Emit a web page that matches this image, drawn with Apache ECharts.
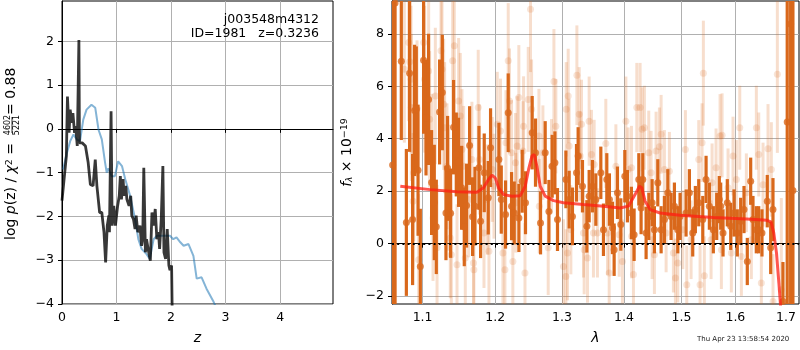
<!DOCTYPE html>
<html>
<head>
<meta charset="utf-8">
<script src="https://cdn.jsdelivr.net/npm/echarts@6/dist/echarts.min.js"></script>
<style>
html, body { margin: 0; padding: 0; background: #fff; }
#chart { width: 800px; height: 350px; }
</style>
</head>
<body>
<div id="chart"></div>
<script>
// ---- left panel: log p(z) ----
var zTicks = [0, 1, 2, 3, 4];
var logpTicks = [-4, -3, -2, -1, 0, 1, 2];

var priorZ = [0.02, 0.09, 0.15, 0.21, 0.27, 0.33, 0.39, 0.45, 0.54, 0.61, 0.67, 0.73, 0.79, 0.82, 0.85, 0.91, 0.97, 1.03, 1.10, 1.16,
              1.25, 1.34, 1.40, 1.46, 1.55, 1.61, 1.68, 1.74, 1.98, 2.04, 2.10, 2.17, 2.23, 2.32, 2.41, 2.47, 2.56, 2.65, 2.78, 2.85];
var priorLogP = [-0.93, -0.55, -0.28, -0.13, -0.24, -0.28, 0.21, 0.44, 0.55, 0.48, -0.02, -0.24, -0.77, -1.0, -0.9, -1.08, -1.08, -0.74, -0.85, -1.15,
                 -1.53, -2.06, -2.52, -2.74, -2.86, -2.97, -2.52, -2.44, -2.44, -2.52, -2.48, -2.59, -2.67, -2.63, -2.9, -3.42, -3.39, -3.65, -3.95, -4.15];

var pzZ = [0, 0.05, 0.08, 0.10, 0.13, 0.15, 0.18, 0.20, 0.23, 0.25, 0.28, 0.31, 0.32, 0.37, 0.43, 0.48, 0.52, 0.57, 0.61, 0.64,
           0.67, 0.69, 0.73, 0.77, 0.80, 0.83, 0.86, 0.87, 0.90, 0.92, 0.95, 0.98, 1.02, 1.05, 1.07, 1.09, 1.12, 1.14, 1.17, 1.19,
           1.23, 1.26, 1.28, 1.31, 1.34, 1.36, 1.39, 1.43, 1.46, 1.48, 1.50, 1.53, 1.55, 1.59, 1.62, 1.65, 1.68, 1.71, 1.74, 1.77,
           1.79, 1.82, 1.85, 1.87, 1.90, 1.93, 1.96, 1.98, 2.01, 2.02];
var pzLogP = [-1.64, -1.0, -0.62, 0.74, -0.09, 0.44, 0.14, 0.36, -0.09, 0.06, -0.39, 2.03, -0.32, -0.32, -0.39, -0.77, -1.27, -1.30, -0.70, -1.30,
              -1.30, -1.91, -1.91, -2.36, -3.05, -2.21, -1.98, -2.36, 0.40, -2.21, -1.76, -2.21, -1.76, -1.53, -1.08, -1.61, -1.15, -1.53, -1.30, -1.61,
              -1.76, -1.53, -1.98, -2.06, -2.29, -1.98, -2.36, -2.21, -2.67, -2.52, -0.89, -2.82, -2.52, -2.82, -3.01, -1.91, -2.21, -1.83, -2.52, -2.36,
              -2.74, -2.06, -0.85, -2.82, -2.97, -2.29, -3.12, -3.23, -3.12, -4.1];

// ---- right panel: spectrum ----
var waveTicks = [1.1, 1.2, 1.3, 1.4, 1.5, 1.6, 1.7];
var fluxTicks = [-2, 0, 2, 4, 6, 8];

var gWave = [1.0612, 1.0643, 1.0723, 1.0788, 1.0830, 1.0869, 1.0895, 1.0917, 1.0940, 1.0970, 1.1013, 1.1045, 1.1079, 1.1119, 1.1155, 1.1182,
             1.1226, 1.1263, 1.1312, 1.1334, 1.1375, 1.1416, 1.1453, 1.1484, 1.1526, 1.1563, 1.1595, 1.1637, 1.1679, 1.1712, 1.1768, 1.1791,
             1.1843, 1.1900, 1.1933, 1.2053, 1.2087, 1.2149, 1.2188, 1.2237, 1.2276, 1.2345, 1.2394, 1.2443, 1.2543, 1.2593, 1.2669, 1.2740,
             1.2797, 1.2847, 1.2889, 1.2929, 1.3060, 1.3111, 1.3163, 1.3227, 1.3253, 1.3322, 1.3392, 1.3429, 1.3482, 1.3537, 1.3618, 1.3661,
             1.3716, 1.3759, 1.3809, 1.3837, 1.3892, 1.3948, 1.4015, 1.4059, 1.4126, 1.4172, 1.4252, 1.4291, 1.4320, 1.4377, 1.4424, 1.4481,
             1.4521, 1.4580, 1.4638, 1.4696, 1.4756, 1.4814, 1.4873, 1.4933, 1.4974, 1.5082, 1.5142, 1.5203, 1.5251, 1.5313, 1.5387, 1.5448,
             1.5509, 1.5583, 1.5646, 1.5695, 1.5721, 1.5765, 1.5846, 1.5911, 1.5974, 1.6037, 1.6102, 1.6166, 1.6230, 1.6296, 1.6341, 1.6406,
             1.6453, 1.6518, 1.6623, 1.6691, 1.6737, 1.6938, 1.7025, 1.7095, 1.7142];
var gFlux = [3.0, 9.17, 6.95, 0.81, 6.50, 0.92, 5.08, 5.12, 2.80, -0.87, 6.99, 4.80, 5.50, 2.33, 1.57, 0.64,
             5.02, 5.76, 1.17, 2.87, 1.16, 4.44, 3.40, 3.10, 2.13, 0.64, 1.45, 3.74, 1.03, 1.43, 2.89, 0.85,
             2.70, 1.75, 3.66, 3.21, 1.68, 1.11, 4.99, 1.43, 1.17, 0.98, 2.38, 1.56, 4.23, 3.47, 0.79, 3.47,
             1.23, 2.95, 3.08, 0.92, 2.45, 1.68, 1.04, 2.70, 3.34, 2.19, 0.66, 1.81, 2.19, 1.68, 2.70, 0.53,
             2.45, 1.68, 0.60, -0.23, 1.94, 0.73, 2.57, 1.81, 1.17, 0.34, 2.45, 1.36, 2.45, 0.41, 1.04, 1.56,
             0.53, 2.32, 0.53, 0.92, 1.94, 1.04, 1.43, 0.53, 1.04, 1.17, 1.94, 0.41, 1.30, 1.56, 0.92, 2.45,
             1.43, 0.53, 1.04, 1.68, 1.43, 0.41, 1.56, 0.66, 1.17, 0.41, 0.85, 1.30, -0.68, 2.38, 0.92, 0.53,
             0.53, 0.41, 1.62, -0.16, 1.30, -2.2, 4.64, 8.37, 2.03];
var gErr = [20, 15, 3.0, 2.8, 3.0, 2.5, 2.5, 2.4, 2.5, 2.2, 2.8, 2.2, 2.5, 2.0, 2.2, 1.8,
            2.0, 2.2, 1.8, 2.0, 1.7, 1.8, 1.6, 1.7, 1.6, 1.5, 1.6, 1.5, 1.5, 1.5, 1.6, 1.4,
            1.5, 1.4, 1.5, 1.4, 1.3, 1.3, 1.5, 1.3, 1.2, 1.3, 1.2, 1.2, 1.4, 1.3, 1.2, 1.2,
            1.2, 1.2, 1.2, 1.2, 1.1, 1.1, 1.1, 1.1, 1.1, 1.0, 1.0, 1.0, 1.0, 1.0, 1.0, 1.0,
            1.0, 1.0, 1.0, 1.0, 1.0, 1.0, 1.0, 1.0, 1.0, 1.0, 1.0, 1.0, 1.0, 1.0, 0.9, 0.9,
            0.9, 0.9, 0.9, 0.9, 0.9, 0.9, 0.9, 0.9, 0.9, 0.9, 0.9, 0.9, 0.9, 0.9, 0.9, 0.9,
            0.9, 0.9, 0.9, 0.9, 0.9, 0.9, 0.9, 0.9, 0.9, 0.9, 0.9, 0.9, 0.9, 0.9, 0.9, 0.9,
            0.9, 0.9, 1.0, 1.0, 1.2, 1.5, 15, 15, 15];

var pWave = [1.0762, 1.0818, 1.0831, 1.0849, 1.0852, 1.0875, 1.0883, 1.0927, 1.0948, 1.1014, 1.1027, 1.1080, 1.1093, 1.1125, 1.1138, 1.1169,
             1.1192, 1.1245, 1.1259, 1.1281, 1.1294, 1.1326, 1.1348, 1.1371, 1.1385, 1.1403, 1.1426, 1.1463, 1.1485, 1.1508, 1.1531, 1.1554,
             1.1577, 1.1623, 1.1669, 1.1692, 1.1697, 1.1758, 1.1775, 1.1839, 1.1886, 1.1910, 1.1958, 1.1982, 1.2029, 1.2076, 1.2111, 1.2140,
             1.2155, 1.2188, 1.2207, 1.2236, 1.2256, 1.2294, 1.2300, 1.2319, 1.2344, 1.2405, 1.2414, 1.2435, 1.2484, 1.2518, 1.2534, 1.2645,
             1.2650, 1.2705, 1.2786, 1.2837, 1.2874, 1.2904, 1.3022, 1.3060, 1.3065, 1.3085, 1.3096, 1.3111, 1.3138, 1.3233, 1.3270, 1.3285,
             1.3306, 1.3338, 1.3349, 1.3402, 1.3429, 1.3466, 1.3498, 1.3510, 1.3563, 1.3700, 1.3727, 1.3755, 1.3866, 1.3921, 1.3975, 1.4033,
             1.4071, 1.4127, 1.4130, 1.4161, 1.4218, 1.4274, 1.4308, 1.4348, 1.4423, 1.4463, 1.4481, 1.4521, 1.4550, 1.4608, 1.4638, 1.4696,
             1.4726, 1.4784, 1.4855, 1.4891, 1.4933, 1.5023, 1.5070, 1.5095, 1.5173, 1.5313, 1.5337, 1.5374, 1.5398, 1.5416, 1.5541, 1.5559,
             1.5634, 1.5709, 1.5734, 1.5747, 1.5860, 1.5923, 1.5955, 1.6019, 1.6084, 1.6115, 1.6212, 1.6309, 1.6407, 1.6454, 1.6505, 1.6539,
             1.6638, 1.6704, 1.6738, 1.6825, 1.6905];
var pFlux = [6.65, 7.67, 6.93, 6.27, 5.19, 1.62, 2.70, 5.15, -0.61, 7.67, 6.27, 6.58, 4.74, 3.21, 0.98, 5.63,
             -0.16, 7.35, 6.65, 5.31, 4.42, 2.95, 2.13, 0.22, -0.42, 6.97, 7.54, -0.80, 5.44, 4.87, 3.59, 2.95,
             -0.55, 1.68, 3.21, -0.74, -0.99, 5.19, 3.21, 0.41, 1.68, -0.29, 2.83, 2.19, 4.55, 4.29, -0.36, -0.99,
             3.85, 6.97, 5.44, 3.47, -0.68, 3.08, 1.56, 3.72, 5.57, 3.53, 4.48, -1.12, 5.50, 8.94, 5.12, 4.10,
             1.43, 3.47, -0.16, 2.95, 6.18, 4.48, -0.87, -1.25, 5.12, -0.36, 5.63, 3.72, 0.53, 6.42, 4.93, 3.34,
             4.55, 0.41, -0.23, -0.55, 4.67, 3.40, 0.41, 3.02, 0.41, 3.82, 0.41, -1.12, 2.95, 0.34, -0.68, 4.67,
             2.83, 2.89, 0.28, -1.18, 5.19, 5.19, 4.36, 4.42, 3.47, 2.70, 0.15, -0.42, 3.53, 3.69, 4.17, 2.83,
             0.41, 2.76, -0.36, -1.31, -0.74, 0.53, 3.59, -1.57, 0.15, 3.21, -1.57, 3.85, 6.50, -1.22, 0.15, 2.32,
             2.89, 4.10, -0.23, 4.13, 2.13, -0.36, 3.34, 2.45, 4.42, -0.49, 1.94, 0.15, 4.42, 3.40, -1.50, 2.25,
             3.62, 2.83, -2.20, 6.46, -1.76];
var pErr = [2.8, 3.0, 3.0, 2.8, 2.8, 2.6, 2.6, 2.6, 2.5, 2.8, 2.8, 2.7, 2.6, 2.5, 2.4, 2.6,
            2.4, 2.6, 2.6, 2.5, 2.5, 2.4, 2.4, 2.3, 2.3, 2.5, 2.6, 2.3, 2.4, 2.4, 2.3, 2.3,
            2.2, 2.2, 2.2, 2.2, 2.2, 2.2, 2.1, 2.1, 2.1, 2.0, 2.0, 2.0, 2.0, 2.0, 2.0, 2.0,
            2.0, 2.2, 2.0, 2.0, 2.0, 1.9, 1.9, 1.9, 2.0, 1.9, 1.9, 1.9, 2.0, 2.4, 1.9, 1.8,
            1.8, 1.8, 1.8, 1.8, 2.0, 1.8, 1.8, 1.8, 1.8, 1.8, 1.8, 1.8, 1.7, 1.9, 1.8, 1.7,
            1.7, 1.7, 1.7, 1.7, 1.7, 1.7, 1.7, 1.7, 1.7, 1.7, 1.6, 1.6, 1.6, 1.6, 1.6, 1.7,
            1.6, 1.6, 1.6, 1.6, 1.7, 1.7, 1.6, 1.6, 1.6, 1.6, 1.5, 1.5, 1.5, 1.5, 1.5, 1.5,
            1.5, 1.5, 1.5, 1.5, 1.5, 1.5, 1.5, 1.5, 1.5, 1.5, 1.5, 1.5, 2.0, 1.5, 1.5, 1.5,
            1.5, 1.6, 1.5, 1.6, 1.5, 1.5, 1.5, 1.5, 1.6, 1.5, 1.5, 1.5, 1.6, 1.6, 1.6, 1.6,
            1.7, 1.8, 1.8, 3.0, 3.5];

var modelWave = [1.0710, 1.1102, 1.1463, 1.1739, 1.1833, 1.1905, 1.1953, 1.2000, 1.2048, 1.2121, 1.2244, 1.2365, 1.2439, 1.2489, 1.2539, 1.2574,
                 1.2614, 1.2664, 1.2740, 1.2868, 1.3022, 1.3338, 1.3661, 1.3937, 1.4076, 1.4188, 1.4262, 1.4303, 1.4360, 1.4446, 1.4620, 1.4974,
                 1.5583, 1.6218, 1.6616, 1.6698, 1.6753, 1.6808, 1.6856, 1.6891];
var modelFlux = [2.19, 2.06, 1.98, 1.96, 2.13, 2.45, 2.61, 2.51, 2.13, 1.87, 1.81, 1.83, 2.19, 2.83, 3.34, 3.40,
                 2.95, 2.19, 1.81, 1.64, 1.56, 1.49, 1.43, 1.36, 1.43, 1.87, 2.19, 2.13, 1.62, 1.30, 1.17, 1.08,
                 1.00, 0.94, 0.89, 0.83, 0.41, -0.36, -1.50, -2.40];

var objName = 'j003548m4312';
var objInfo = 'ID=1981   z=0.3236';
var stamp = 'Thu Apr 23 13:58:54 2020';

function zip() {
  var cols = arguments, out = [];
  for (var i = 0; i < cols[0].length; i++) {
    var row = [];
    for (var j = 0; j < cols.length; j++) row.push(cols[j][i]);
    out.push(row);
  }
  return out;
}
function minus(v) { return String(v).replace('-', '\u2212'); }

var chart = echarts.init(document.getElementById('chart'));

var orange = '#d9681b';
var paleOrange = 'rgba(217,104,27,0.22)';
var gridLine = { show: true, lineStyle: { color: '#b0b0b0', width: 1 } };
var tickStyle = { show: true, inside: false, length: 4, lineStyle: { color: '#000', width: 1 } };
var labelFont = { color: '#000', fontSize: 12.5, fontFamily: 'DejaVu Sans' };

// vertical error bar from y-err to y+err, placed through the axes
function errBars(color, width) {
  return function (params, api) {
    var x = api.value(0), y = api.value(1), e = api.value(2);
    var a = api.coord([x, y - e]);
    var b = api.coord([x, y + e]);
    return {
      type: 'line',
      shape: { x1: a[0], y1: a[1], x2: b[0], y2: b[1] },
      style: { stroke: color, lineWidth: width }
    };
  };
}

var option = {
  backgroundColor: '#fff',
  animation: false,
  grid: [
    { left: 62, top: 1, width: 271, height: 303, show: true, borderColor: '#000', borderWidth: 1, backgroundColor: 'transparent' },
    { left: 392, top: 1, width: 407, height: 303, show: true, borderColor: '#000', borderWidth: 1, backgroundColor: 'transparent' }
  ],
  xAxis: [
    {
      gridIndex: 0, type: 'value', min: 0, max: 4.97,
      name: 'z', nameLocation: 'middle', nameGap: 27,
      nameTextStyle: { fontSize: 14, fontStyle: 'italic', fontFamily: 'DejaVu Sans', color: '#000' },
      axisLine: { lineStyle: { color: '#000' } },
      axisTick: Object.assign({ customValues: zTicks }, tickStyle),
      axisLabel: Object.assign({ customValues: zTicks, margin: 7, formatter: minus }, labelFont),
      splitLine: gridLine
    },
    {
      gridIndex: 1, type: 'log', logBase: 10, min: 1.0604, max: 1.7267,
      name: 'λ', nameLocation: 'middle', nameGap: 27,
      nameTextStyle: { fontSize: 14, fontStyle: 'italic', fontFamily: 'DejaVu Sans', color: '#000' },
      axisLine: { lineStyle: { color: '#000' } },
      axisTick: Object.assign({ customValues: waveTicks }, tickStyle),
      axisLabel: Object.assign({ customValues: waveTicks, margin: 7, formatter: function (v) { return Number(v).toFixed(1); } }, labelFont),
      splitLine: gridLine
    }
  ],
  yAxis: [
    {
      gridIndex: 0, type: 'value', min: -4, max: 2.92,
      axisLine: { lineStyle: { color: '#000' } },
      axisTick: Object.assign({ customValues: logpTicks }, tickStyle),
      axisLabel: Object.assign({ customValues: logpTicks, margin: 8, formatter: minus }, labelFont),
      splitLine: gridLine
    },
    {
      gridIndex: 1, type: 'value', min: -2.3, max: 9.25,
      name: '{i|f}{sub|λ}{n| × 10}{sup|−19}', nameLocation: 'middle', nameGap: 38,
      nameTextStyle: {
        color: '#000', fontFamily: 'DejaVu Sans',
        rich: {
          i: { fontSize: 14, fontStyle: 'italic', fontFamily: 'DejaVu Sans', color: '#000' },
          sub: { fontSize: 9, fontStyle: 'italic', verticalAlign: 'bottom', fontFamily: 'DejaVu Sans', color: '#000' },
          n: { fontSize: 14, fontFamily: 'DejaVu Sans', color: '#000' },
          sup: { fontSize: 9.5, verticalAlign: 'top', fontFamily: 'DejaVu Sans', color: '#000' }
        }
      },
      axisLine: { lineStyle: { color: '#000' } },
      axisTick: Object.assign({ customValues: fluxTicks }, tickStyle),
      axisLabel: Object.assign({ customValues: fluxTicks, margin: 8, formatter: minus }, labelFont),
      splitLine: gridLine
    }
  ],
  graphic: [
    { type: 'text', z: 100, x: 319, y: 20, style: { text: objName, align: 'right', verticalAlign: 'middle', fontSize: 12.5, fontFamily: 'DejaVu Sans', fill: '#000' } },
    { type: 'text', z: 100, x: 319, y: 34, style: { text: objInfo, align: 'right', verticalAlign: 'middle', fontSize: 12.5, fontFamily: 'DejaVu Sans', fill: '#000' } },
    { type: 'text', z: 100, x: 697, y: 339, style: { text: stamp, align: 'left', verticalAlign: 'middle', fontSize: 7, fontFamily: 'DejaVu Sans', fill: '#222' } },
    {
      type: 'text', z: 100, x: 11.5, y: 240, rotation: Math.PI / 2,
      style: {
        text: '{n|log }{i|p}{n|(z) / }{i|χ}{s|2}{n| =}', align: 'left', verticalAlign: 'middle',
        rich: {
          n: { fontSize: 14, fontFamily: 'DejaVu Sans', fill: '#000' },
          i: { fontSize: 14, fontStyle: 'italic', fontFamily: 'DejaVu Sans', fill: '#000' },
          s: { fontSize: 9.5, verticalAlign: 'top', fontFamily: 'DejaVu Sans', fill: '#000' }
        }
      }
    },
    { type: 'text', z: 100, x: 7.5, y: 125, rotation: Math.PI / 2, style: { text: '4602', align: 'center', verticalAlign: 'middle', fontSize: 8, fontFamily: 'DejaVu Sans', fill: '#000' } },
    { type: 'line', z: 100, shape: { x1: 12, y1: 133, x2: 12, y2: 117 }, style: { stroke: '#000', lineWidth: 0.8 } },
    { type: 'text', z: 100, x: 16.5, y: 125, rotation: Math.PI / 2, style: { text: '5221', align: 'center', verticalAlign: 'middle', fontSize: 8, fontFamily: 'DejaVu Sans', fill: '#000' } },
    { type: 'text', z: 100, x: 11.5, y: 115, rotation: Math.PI / 2, style: { text: '= 0.88', align: 'left', verticalAlign: 'middle', fontSize: 14, fontFamily: 'DejaVu Sans', fill: '#000' } }
  ],
  series: [
    {
      type: 'line', xAxisIndex: 0, yAxisIndex: 0, data: zip(priorZ, priorLogP),
      showSymbol: false, lineStyle: { color: 'rgba(31,119,180,0.55)', width: 2 }, z: 2
    },
    {
      type: 'line', xAxisIndex: 0, yAxisIndex: 0, data: zip(pzZ, pzLogP),
      showSymbol: false, lineStyle: { color: 'rgba(0,0,0,0.78)', width: 2.8 }, z: 3
    },
    {
      type: 'custom', xAxisIndex: 1, yAxisIndex: 1, data: zip(pWave, pFlux, pErr),
      encode: { x: 0, y: 1 }, clip: true, renderItem: errBars(paleOrange, 3), z: 2
    },
    {
      type: 'scatter', xAxisIndex: 1, yAxisIndex: 1, data: zip(pWave, pFlux),
      symbolSize: 7, itemStyle: { color: paleOrange }, z: 2
    },
    {
      type: 'custom', xAxisIndex: 1, yAxisIndex: 1, data: zip(gWave, gFlux, gErr),
      encode: { x: 0, y: 1 }, clip: true, renderItem: errBars(orange, 3.2), z: 3
    },
    {
      type: 'scatter', xAxisIndex: 1, yAxisIndex: 1, data: zip(gWave, gFlux),
      symbolSize: 7, itemStyle: { color: orange }, z: 3
    },
    {
      type: 'line', xAxisIndex: 1, yAxisIndex: 1, data: zip(modelWave, modelFlux),
      showSymbol: false, lineStyle: { color: 'rgba(255,30,20,0.75)', width: 3 }, z: 4,
      markLine: {
        silent: true, symbol: 'none', label: { show: false },
        lineStyle: { color: '#000', type: [2, 3.2], width: 2 },
        data: [{ yAxis: 0 }]
      }
    }
  ]
};

chart.setOption(option);
</script>
</body>
</html>
